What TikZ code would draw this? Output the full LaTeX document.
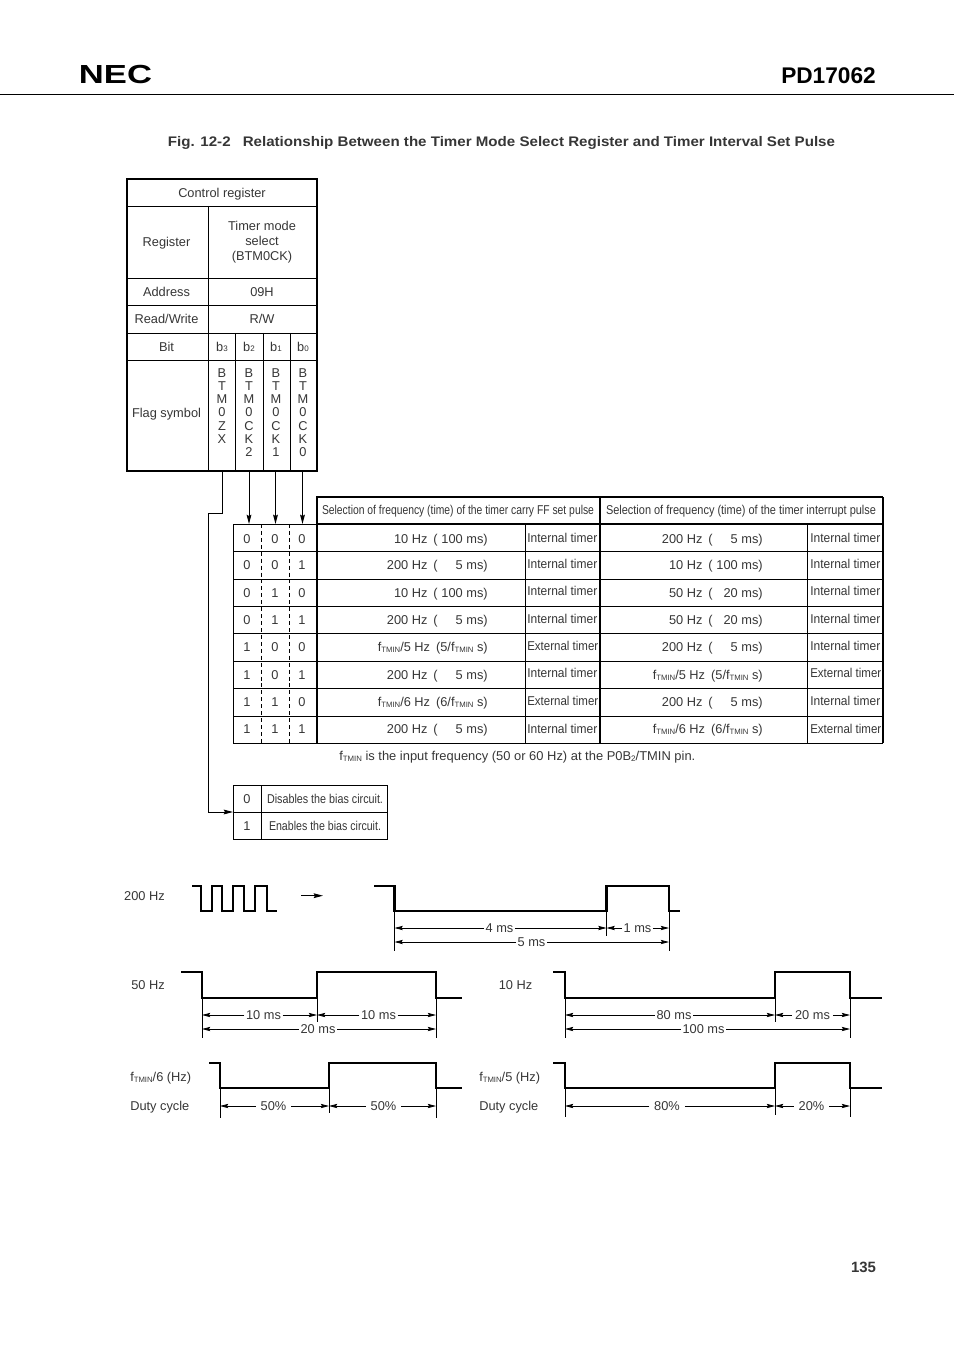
\documentclass[tikz,border=0pt]{standalone}
\usepackage{fontspec}
\usepackage{graphicx}
\setmainfont{Liberation Sans}
\usetikzlibrary{arrows.meta}
\definecolor{ink}{HTML}{363636}
\newcommand\fT{f\raisebox{-0.2ex}{\fontsize{5.8pt}{6pt}\selectfont TMIN}}
\newcommand\sbt[1]{\raisebox{-0.1ex}{\fontsize{6pt}{6pt}\selectfont #1}}
\newcommand\fq[2]{\makebox[0pt][r]{#1}\hspace{4.5pt}(\makebox[37.5pt][r]{#2)}}
\newcommand\Int{\resizebox{52.5pt}{\height}{Internal timer}}
\newcommand\Ext{\resizebox{53.25pt}{\height}{External timer}}
\tikzset{
  tx/.style={text=ink,font=\fontsize{9.6pt}{11.25pt}\selectfont,inner sep=0pt,text height=6.9pt,text depth=0pt},
  thin line/.style={line width=0.7pt,draw=black},
  thick line/.style={line width=1.5pt,draw=black},
  dashes/.style={line width=0.7pt,draw=black,dash pattern=on 3pt off 2.2pt},
  wave/.style={line width=1.6pt,draw=black,line join=miter},
  dimarrow/.style={line width=0.6pt,draw=black,-{Stealth[length=6.2pt,width=3.2pt,inset=1pt]}},
  ext/.style={line width=0.6pt,draw=black},
  flow/.style={line width=0.75pt,draw=black},
  flowarrow/.style={line width=0.75pt,draw=black,-{Stealth[length=7pt,width=3.6pt,inset=1pt]}},
  lab/.style={tx,inner xsep=1pt}
}
\newcommand\dimto[6][1pt]{% [gap], name, xa, xb, y, label position
  \coordinate (#2a) at (#3,#5);
  \coordinate (#2b) at (#4,#5);
  \node[lab,inner xsep=#1] (#2l) at (#6) {\dimtext};
  \draw[dimarrow] (#2l.west |- #2a) -- (#2a);
  \draw[dimarrow] (#2l.east |- #2b) -- (#2b);
}
\begin{document}
\begin{tikzpicture}[x=0.75pt,y=-0.75pt]
\path[use as bounding box,fill=white] (0,0) rectangle (954,1351);
% page head
\node[inner sep=0pt,text=black,font=\bfseries\fontsize{19.6pt}{19.6pt}\selectfont,text height=14pt,text depth=0pt] (logo) at (115.5,74) {\resizebox{54.75pt}{\height}{NEC}};
\node[inner sep=0pt,text=black,font=\bfseries\fontsize{17pt}{17pt}\selectfont,text height=12pt,text depth=0pt] (part) at (828.5,75.5) {PD17062};
\draw[line width=0.7pt] (0,94) -- (954,94);
\node[inner sep=0pt,text=ink,font=\bfseries\fontsize{10.4pt}{12pt}\selectfont,text height=7.4pt,text depth=0pt] (title) at (501.5,141.5) {\resizebox{500.25pt}{\height}{Fig. 12-2\hspace{0.8em}Relationship Between the Timer Mode Select Register and Timer Interval Set Pulse}};
\node[inner sep=0pt,text=ink,font=\bfseries\fontsize{11.2pt}{12pt}\selectfont,text height=8pt,text depth=0pt] (page) at (863.5,1267.5) {135};

% control register table
\draw[thin line] (127,206) -- (317,206) (127,278) -- (317,278) (127,305) -- (317,305) (127,333) -- (317,333) (127,360) -- (317,360);
\draw[thin line] (208,206) -- (208,471) (235,333) -- (235,471) (263,333) -- (263,471) (290,333) -- (290,471);
\draw[thick line] (127,179) rectangle (317,471);
\node[tx] (ctrl) at (222,193) {Control register};
\node[tx] (regl) at (166.5,242) {Register};
\node[tx,align=center,text height=,text depth=] (regv) at (262,242.5) {Timer mode\\select\\(BTM0CK)};
\node[tx] (addrl) at (166.5,292) {Address};
\node[tx] (addrv) at (262,292) {09H};
\node[tx] (rwl) at (166.5,319) {Read/Write};
\node[tx] (rwv) at (262,319) {R/W};
\node[tx] (bitl) at (166.5,347) {Bit};
\node[tx] (b3) at (222,346.5) {b\sbt{3}};
\node[tx] (b2) at (249,346.5) {b\sbt{2}};
\node[tx] (b1) at (276,346.5) {b\sbt{1}};
\node[tx] (b0) at (303,346.5) {b\sbt{0}};
\node[tx] (flagl) at (166.5,413) {Flag symbol};
\tikzset{stack/.style={tx,align=center,anchor=north,text height=,text depth=,font=\fontsize{9.6pt}{9.83pt}\selectfont}}
\node[stack] (fz) at (222,368.5) {B\\T\\M\\0\\Z\\X};
\node[stack] (fc2) at (249,368.5) {B\\T\\M\\0\\C\\K\\2};
\node[stack] (fc1) at (276,368.5) {B\\T\\M\\0\\C\\K\\1};
\node[stack] (fc0) at (303,368.5) {B\\T\\M\\0\\C\\K\\0};

% flag connectors
\coordinate (o3) at (222,471); \coordinate (o2) at (249,471); \coordinate (o1) at (275.5,471); \coordinate (o0) at (302.5,471);
\coordinate (i2) at (249,524); \coordinate (i1) at (275.5,524); \coordinate (i0) at (302.5,524);
\coordinate (bend1) at (222,513); \coordinate (bend2) at (208,513); \coordinate (bend3) at (208,812); \coordinate (bias) at (233,812);
\draw[flowarrow] (o2) -- (i2);
\draw[flowarrow] (o1) -- (i1);
\draw[flowarrow] (o0) -- (i0);
\draw[flow] (o3) -- (bend1) -- (bend2) -- (bend3);
\draw[flowarrow] (bend3) -- (bias);

% selection table
\foreach \yy in {524,551,579,606,633,661,688,716,743} \draw[thin line] (233,\yy) -- (883,\yy);
\draw[thin line] (233,524) -- (233,743) (525,524) -- (525,743) (807,524) -- (807,743);
\draw[dashes] (261,524) -- (261,743);
\draw[dashes] (289,524) -- (289,743);
\draw[thick line] (317,743) -- (317,497) -- (883,497);
\draw[thick line] (600,497) -- (600,743);
\draw[line width=1.1pt] (883,497) -- (883,743) (317,524) -- (883,524);
\node[tx] (hl) at (458,510) {\resizebox{204pt}{\height}{Selection of frequency (time) of the timer carry FF set pulse}};
\node[tx] (hr) at (741,510) {\resizebox{202.5pt}{\height}{Selection of frequency (time) of the timer interrupt pulse}};
\foreach \nn/\yc/\ba/\bb/\bc/\leftf/\ya/\leftt/\rightf/\yb/\rightt in {
 1/538.5/0/0/0/{\fq{10 Hz}{100 ms}}/538/\Int/{\fq{200 Hz}{5 ms}}/538/\Int,
 2/565/0/0/1/{\fq{200 Hz}{5 ms}}/563.5/\Int/{\fq{10 Hz}{100 ms}}/563.5/\Int,
 3/592.5/0/1/0/{\fq{10 Hz}{100 ms}}/591/\Int/{\fq{50 Hz}{20 ms}}/591/\Int,
 4/619.5/0/1/1/{\fq{200 Hz}{5 ms}}/619/\Int/{\fq{50 Hz}{20 ms}}/619/\Int,
 5/647/1/0/0/{\fT/5 Hz\hspace{4.5pt}(5/\fT\ s)}/645.5/\Ext/{\fq{200 Hz}{5 ms}}/645.5/\Int,
 6/674.5/1/0/1/{\fq{200 Hz}{5 ms}}/673/\Int/{\fT/5 Hz\hspace{4.5pt}(5/\fT\ s)}/673/\Ext,
 7/701.5/1/1/0/{\fT/6 Hz\hspace{4.5pt}(6/\fT\ s)}/700.5/\Ext/{\fq{200 Hz}{5 ms}}/701/\Int,
 8/729/1/1/1/{\fq{200 Hz}{5 ms}}/729/\Int/{\fT/6 Hz\hspace{4.5pt}(6/\fT\ s)}/729/\Ext}{
  \node[tx] (ba\nn) at (247,\yc) {\ba};
  \node[tx] (bb\nn) at (275,\yc) {\bb};
  \node[tx] (bc\nn) at (302,\yc) {\bc};
  \node[tx,anchor=east] (lf\nn) at (488,\yc) {\leftf};
  \node[tx,anchor=west] (lt\nn) at (527,\ya) {\leftt};
  \node[tx,anchor=east] (rf\nn) at (763,\yc) {\rightf};
  \node[tx,anchor=west] (rt\nn) at (810,\yb) {\rightt};
}
\node[tx,anchor=west] (note) at (339,756) {\resizebox{267pt}{\height}{\fT\ is the input frequency (50 or 60 Hz) at the P0B\sbt{2}/TMIN pin.}};

% bias table
\draw[thin line] (233,785) rectangle (387,839);
\draw[thin line] (233,812) -- (387,812) (261,785) -- (261,839);
\node[tx] (s0) at (247,799) {0};
\node[tx] (s1) at (247,826) {1};
\node[tx] (dis) at (325,799) {\resizebox{87pt}{\height}{Disables the bias circuit.}};
\node[tx] (ena) at (325,826) {\resizebox{84pt}{\height}{Enables the bias circuit.}};

% waveforms
\draw[wave] (192,885.7) -- (200.7,885.7) -- (200.7,911) -- (211.7,911) -- (211.7,885.7) -- (222.3,885.7) -- (222.3,911) -- (233.3,911) -- (233.3,885.7) -- (244,885.7) -- (244,911) -- (255,911) -- (255,885.7) -- (266.7,885.7) -- (266.7,911) -- (276.7,911);
\coordinate (aa) at (301,895.7); \coordinate (ab) at (323,895.7);
\draw[flowarrow] (aa) -- (ab);
\draw[wave] (374,885.7) -- (394.5,885.7) -- (394.5,911) -- (606.5,911) -- (606.5,885.7) -- (669,885.7) -- (669,911) -- (680,911);
\draw[wave] (181,971.7) -- (202,971.7) -- (202,997.7) -- (317,997.7) -- (317,971.7) -- (436,971.7) -- (436,997.7) -- (462,997.7);
\draw[wave] (553,971.7) -- (565,971.7) -- (565,997.7) -- (775,997.7) -- (775,971.7) -- (850,971.7) -- (850,997.7) -- (882,997.7);
\draw[wave] (209,1062.7) -- (220,1062.7) -- (220,1087.7) -- (329,1087.7) -- (329,1062.7) -- (436,1062.7) -- (436,1087.7) -- (462,1087.7);
\draw[wave] (553,1062.7) -- (565,1062.7) -- (565,1087.7) -- (775,1087.7) -- (775,1062.7) -- (850,1062.7) -- (850,1087.7) -- (882,1087.7);

% extension lines
\draw[ext] (394.5,911) -- (394.5,951) (606.5,911) -- (606.5,936) (669,911) -- (669,951);
\draw[ext] (202,998) -- (202,1038) (317,998) -- (317,1022) (436,998) -- (436,1038);
\draw[ext] (565,998) -- (565,1038) (775,998) -- (775,1022) (850,998) -- (850,1038);
\draw[ext] (220,1088) -- (220,1118) (329,1088) -- (329,1113) (436,1088) -- (436,1118);
\draw[ext] (565,1088) -- (565,1117) (775,1088) -- (775,1115) (850,1088) -- (850,1117);

% dimensions
\def\dimtext{4 ms}\dimto{da}{394.5}{606.5}{928}{499.5,928}
\def\dimtext{1 ms}\dimto{db}{606.5}{669}{928}{637.5,928}
\def\dimtext{5 ms}\dimto{dc}{394.5}{669}{942}{531.5,942}
\def\dimtext{10 ms}\dimto{dd}{202}{317}{1015}{263.5,1015}
\def\dimtext{10 ms}\dimto{de}{317}{436}{1015}{378.5,1015}
\def\dimtext{20 ms}\dimto{df}{202}{436}{1029}{318,1029}
\def\dimtext{80 ms}\dimto{dg}{565}{775}{1015}{674,1015}
\def\dimtext{20 ms}\dimto[2pt]{dh}{775}{850}{1015}{812.5,1015}
\def\dimtext{100 ms}\dimto{di}{565}{850}{1029}{703.5,1029}
\def\dimtext{50\%}\dimto[3.5pt]{dj}{220}{329}{1106}{273.5,1106}
\def\dimtext{50\%}\dimto[3.5pt]{dk}{329}{436}{1106}{383.5,1106}
\def\dimtext{80\%}\dimto[3.5pt]{dl}{565}{775}{1106}{667,1106}
\def\dimtext{20\%}\dimto[3.5pt]{dm}{775}{850}{1106}{811.5,1106}

% wave labels
\node[tx] (w200) at (144.5,896) {200 Hz};
\node[tx] (w50) at (148,985) {50 Hz};
\node[tx] (w10) at (515.5,985) {10 Hz};
\node[tx,anchor=west] (w6) at (130,1077) {\fT/6 (Hz)};
\node[tx,anchor=west] (d6) at (130,1106) {Duty cycle};
\node[tx,anchor=west] (w5) at (479,1077) {\fT/5 (Hz)};
\node[tx,anchor=west] (d5) at (479,1106) {Duty cycle};
\end{tikzpicture}
\end{document}
